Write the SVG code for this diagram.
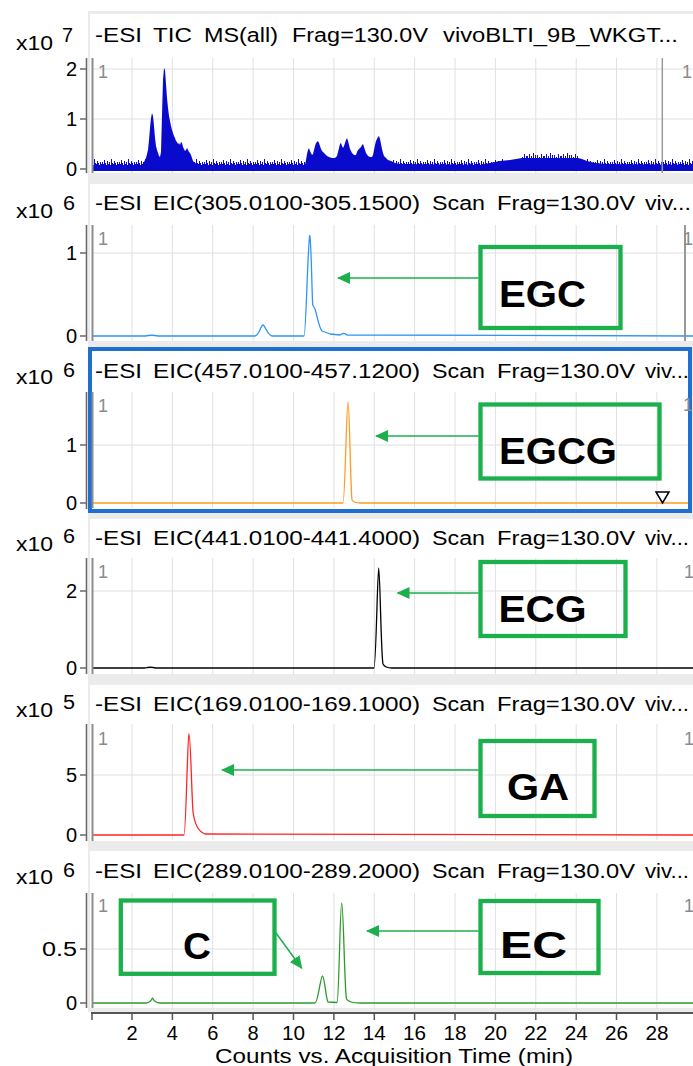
<svg xmlns="http://www.w3.org/2000/svg" width="693" height="1066" viewBox="0 0 693 1066">
<style>
text{font-family:"Liberation Sans",Arial,sans-serif;}
.hdr{font-size:19.5px;fill:#000;}
.tk{font-size:20px;fill:#000;}
.one{font-size:19px;fill:#8a8a8a;}
.lbl{font-size:37px;font-weight:bold;fill:#000;}
.grid{stroke:#e0e0e0;stroke-width:1;fill:none;}
.axis{stroke:#6a6a6a;stroke-width:1.6;fill:none;}
.cur{stroke:#8c8c8c;stroke-width:2;fill:none;}
.box{fill:none;stroke:#1bb04b;stroke-width:4.3;}
.arr{stroke:#1bb04b;stroke-width:1.5;fill:none;marker-end:url(#ah);}
.trace{fill:none;stroke-width:1.3;stroke-linejoin:round;}
</style>
<defs>
<marker id="ah" viewBox="0 0 13 12" refX="12" refY="6" markerWidth="13" markerHeight="12" markerUnits="userSpaceOnUse" orient="auto">
<path d="M0,0 L13,6 L0,12 z" fill="#1bb04b"/>
</marker>
<path id="vg" class="grid" d="M132,0V116M172.4,0V116M212.7,0V116M253.1,0V116M293.5,0V116M333.9,0V116M374.3,0V116M414.6,0V116M455,0V116M495.4,0V116M535.8,0V116M576.2,0V116M616.5,0V116M656.9,0V116"/>
<pattern id="noise" x="0" y="159" width="17" height="7" patternUnits="userSpaceOnUse">
<g fill="#0a0acd">
<rect x="0" y="3" width="1" height="4"/><rect x="1" y="5" width="1" height="2"/><rect x="2" y="1" width="1" height="6"/><rect x="3" y="4" width="1" height="3"/><rect x="4" y="6" width="1" height="1"/><rect x="5" y="2" width="1" height="5"/><rect x="6" y="5" width="1" height="2"/><rect x="7" y="3" width="1" height="4"/><rect x="8" y="6" width="1" height="1"/><rect x="9" y="0" width="1" height="7"/><rect x="10" y="4" width="1" height="3"/><rect x="11" y="5" width="1" height="2"/><rect x="12" y="2" width="1" height="5"/><rect x="13" y="4" width="1" height="3"/><rect x="14" y="6" width="1" height="1"/><rect x="15" y="3" width="1" height="4"/><rect x="16" y="5" width="1" height="2"/>
</g>
</pattern>
<pattern id="noise2" x="0" y="153" width="17" height="5" patternUnits="userSpaceOnUse">
<g fill="#0a0acd">
<rect x="0" y="3" width="1" height="2"/><rect x="2" y="1" width="1" height="4"/><rect x="4" y="3" width="1" height="2"/><rect x="6" y="0" width="1" height="5"/><rect x="8" y="2" width="1" height="3"/><rect x="10" y="2" width="1" height="3"/><rect x="12" y="4" width="1" height="1"/><rect x="14" y="1" width="1" height="4"/><rect x="16" y="3" width="1" height="2"/>
</g>
</pattern>
</defs>

<rect x="0" y="0" width="693" height="1066" fill="#fff"/>
<rect x="88" y="11" width="605" height="1003" fill="#ebebeb"/>

<!-- Panel 1: TIC -->
<g id="panel-tic">
<rect x="90" y="14" width="603" height="159" fill="#fff"/>
<use href="#vg" y="58"/>
<path class="grid" d="M92,69H693M92,119H693"/>
<rect x="92" y="159" width="601" height="7" fill="url(#noise)"/>
<rect x="522" y="153" width="56" height="5" fill="url(#noise2)"/>
<path fill="#0a0acd" d="M92,171 L92,165 L142,165 L144,162 L146,158 L148,150 L149,140 L150,128 L151,118 L152,113 L153,116 L154,126 L155,138 L156,146 L157,150 L158,153 L159,156 L160,157 L161,152 L162,115 L163,80 L164,68 L165,70 L166,84 L167,98 L168,108 L169,116 L170,121 L171,126 L172,130 L173,133 L174,136 L175,138 L176,141 L177,142 L178,144 L179,143 L180,145 L181,142 L182,143 L183,147 L184,149 L185,151 L186,150 L187,148 L188,150 L189,152 L190,153 L191,155 L192,158 L193,161 L195,163 L198,164 L200,165 L305,165 L306,160 L307,154 L308,150 L309,148 L310,151 L311,153 L312,155 L313,154 L314,150 L315,146 L316,143 L317,142 L318,141 L319,143 L320,146 L321,149 L322,151 L323,152 L325,154 L327,156 L329,157 L332,158 L335,158 L337,156 L338,152 L339,148 L340,144 L341,143 L342,146 L343,148 L344,146 L345,143 L346,140 L347,138 L348,141 L349,145 L350,149 L351,151 L352,153 L354,155 L356,155 L357,152 L358,150 L359,149 L361,147 L362,145 L363,144 L364,147 L365,150 L366,153 L368,156 L370,157 L372,157 L373,155 L374,150 L375,145 L376,141 L377,139 L378,137 L379,136 L380,139 L381,144 L382,149 L383,153 L384,156 L386,158 L388,160 L391,161 L395,163 L400,164 L480,165 L490,163 L500,161 L510,160 L522,158 L578,158 L582,159 L587,161 L595,163 L605,164 L693,165 L693,171 Z"/>
<path class="axis" d="M86.5,58V173M80,69H86.5M80,119H86.5M80,169H86.5"/>
<path class="cur" d="M92.5,58V173"/>
<path stroke="#9a9a9a" stroke-width="1.5" d="M662.3,58V173"/>
<text class="one" x="98" y="78" textLength="10" lengthAdjust="spacingAndGlyphs">1</text>
<text class="one" x="682" y="78" textLength="10" lengthAdjust="spacingAndGlyphs">1</text>
<text class="hdr" x="95" y="42" textLength="47" lengthAdjust="spacingAndGlyphs">-ESI</text>
<text class="hdr" x="153" y="42" textLength="39" lengthAdjust="spacingAndGlyphs">TIC</text>
<text class="hdr" x="204" y="42" textLength="74" lengthAdjust="spacingAndGlyphs">MS(all)</text>
<text class="hdr" x="292" y="42" textLength="136" lengthAdjust="spacingAndGlyphs">Frag=130.0V</text>
<text class="hdr" x="443" y="42" textLength="235" lengthAdjust="spacingAndGlyphs">vivoBLTI_9B_WKGT...</text>
<text class="tk" x="16" y="50" textLength="37" lengthAdjust="spacingAndGlyphs">x10</text>
<text class="tk" x="62" y="42" font-size="17" textLength="11" lengthAdjust="spacingAndGlyphs">7</text>
<text class="tk" x="77" y="76" text-anchor="end">2</text>
<text class="tk" x="77" y="126" text-anchor="end">1</text>
<text class="tk" x="77" y="176" text-anchor="end">0</text>
</g>

<!-- Panel 2: EIC 305 -->
<g id="panel-eic305">
<rect x="90" y="184" width="603" height="157" fill="#fff"/>
<use href="#vg" y="225"/>
<path class="grid" d="M92,253H693"/>
<path class="trace" stroke="#2f95f5" d="M92,336 L145,336 Q152,334.5 158,336 L255,336 C259,336 261,325 263,325 C265,325 267,335 272,336 L304,336 C306,336 307.5,250 309.7,235.5 C311.2,238 311.8,290 312.7,305 L315,309 C317,315 319,328 322,331 L330,334 L340,335 Q344,332 347,335 L693,336"/>
<path class="axis" d="M86.5,225V341M80,253H86.5M80,336H86.5"/>
<path class="cur" d="M92.5,225V341"/>
<path stroke="#8c8c8c" stroke-width="1.8" d="M685,225V341"/>
<text class="one" x="98" y="245" textLength="10" lengthAdjust="spacingAndGlyphs">1</text>
<text class="one" x="683" y="245" textLength="10" lengthAdjust="spacingAndGlyphs">1</text>
<text class="hdr" x="95" y="210" textLength="47" lengthAdjust="spacingAndGlyphs">-ESI</text>
<text class="hdr" x="153" y="210" textLength="267" lengthAdjust="spacingAndGlyphs">EIC(305.0100-305.1500)</text>
<text class="hdr" x="432" y="210" textLength="53" lengthAdjust="spacingAndGlyphs">Scan</text>
<text class="hdr" x="497" y="210" textLength="138" lengthAdjust="spacingAndGlyphs">Frag=130.0V</text>
<text class="hdr" x="645" y="210" textLength="46" lengthAdjust="spacingAndGlyphs">viv...</text>
<text class="tk" x="16" y="218" textLength="37" lengthAdjust="spacingAndGlyphs">x10</text>
<text class="tk" x="63" y="210" font-size="17" textLength="12" lengthAdjust="spacingAndGlyphs">6</text>
<text class="tk" x="77" y="260" text-anchor="end">1</text>
<text class="tk" x="77" y="343" text-anchor="end">0</text>
</g>

<!-- Panel 3: EIC 457 (selected) -->
<g id="panel-eic457">
<rect x="90" y="349" width="600" height="162" fill="#fff"/>
<use href="#vg" y="392"/>
<path class="grid" d="M92,445H690"/>
<path class="trace" stroke="#ff9a1f" d="M92,503 L343,503 C345,503 346.5,402 348,402 C349.5,402 350.5,490 352,500 Q354,503 360,503 L690,503"/>
<path fill="#fff" stroke="#000" stroke-width="1.5" d="M656,492 L669,492 L662.5,503 Z"/>
<rect x="90" y="349" width="600" height="162" fill="none" stroke="#1e6fcf" stroke-width="4"/>
<path class="axis" d="M86.5,392V509M80,445H86.5M80,503H86.5"/>
<path class="cur" d="M92.5,392V508"/>
<text class="one" x="98" y="412" textLength="10" lengthAdjust="spacingAndGlyphs">1</text>
<text class="one" x="683" y="411" textLength="10" lengthAdjust="spacingAndGlyphs">1</text>
<text class="hdr" x="95" y="378" textLength="47" lengthAdjust="spacingAndGlyphs">-ESI</text>
<text class="hdr" x="153" y="378" textLength="267" lengthAdjust="spacingAndGlyphs">EIC(457.0100-457.1200)</text>
<text class="hdr" x="432" y="378" textLength="53" lengthAdjust="spacingAndGlyphs">Scan</text>
<text class="hdr" x="497" y="378" textLength="138" lengthAdjust="spacingAndGlyphs">Frag=130.0V</text>
<text class="hdr" x="645" y="378" textLength="44" lengthAdjust="spacingAndGlyphs">viv...</text>
<text class="tk" x="16" y="384" textLength="37" lengthAdjust="spacingAndGlyphs">x10</text>
<text class="tk" x="63" y="377" font-size="17" textLength="12" lengthAdjust="spacingAndGlyphs">6</text>
<text class="tk" x="77" y="452" text-anchor="end">1</text>
<text class="tk" x="77" y="509.5" text-anchor="end">0</text>
</g>

<!-- Panel 4: EIC 441 -->
<g id="panel-eic441">
<rect x="90" y="519" width="603" height="155" fill="#fff"/>
<use href="#vg" y="558"/>
<path class="grid" d="M92,591H693"/>
<path class="trace" stroke="#000" d="M92,668 L145,668 Q150,666.5 156,668 L374,668 C376,668 377.5,568 378.7,568 C380,568 381,655 383,664 Q385,668 392,668 L693,668"/>
<path class="axis" d="M86.5,558V674M80,591H86.5M80,668H86.5"/>
<path class="cur" d="M92.5,558V674"/>
<text class="one" x="98" y="578" textLength="10" lengthAdjust="spacingAndGlyphs">1</text>
<text class="one" x="684" y="578" textLength="10" lengthAdjust="spacingAndGlyphs">1</text>
<text class="hdr" x="95" y="545" textLength="47" lengthAdjust="spacingAndGlyphs">-ESI</text>
<text class="hdr" x="153" y="545" textLength="267" lengthAdjust="spacingAndGlyphs">EIC(441.0100-441.4000)</text>
<text class="hdr" x="432" y="545" textLength="53" lengthAdjust="spacingAndGlyphs">Scan</text>
<text class="hdr" x="497" y="545" textLength="138" lengthAdjust="spacingAndGlyphs">Frag=130.0V</text>
<text class="hdr" x="645" y="545" textLength="44" lengthAdjust="spacingAndGlyphs">viv...</text>
<text class="tk" x="16" y="551" textLength="37" lengthAdjust="spacingAndGlyphs">x10</text>
<text class="tk" x="63" y="543" font-size="17" textLength="12" lengthAdjust="spacingAndGlyphs">6</text>
<text class="tk" x="77" y="598" text-anchor="end">2</text>
<text class="tk" x="77" y="675" text-anchor="end">0</text>
</g>

<!-- Panel 5: EIC 169 -->
<g id="panel-eic169">
<rect x="90" y="685" width="603" height="156" fill="#fff"/>
<use href="#vg" y="724"/>
<path class="grid" d="M92,775H693"/>
<path class="trace" stroke="#ff2424" d="M92,835 L184,835 C186,835 187.5,735 189,734 C190.5,734 191.5,790 193,812 C195,825 198,831 205,834 L693,835"/>
<path class="axis" d="M86.5,724V841M80,775H86.5M80,835H86.5"/>
<path class="cur" d="M92.5,724V841"/>
<text class="one" x="98" y="745" textLength="10" lengthAdjust="spacingAndGlyphs">1</text>
<text class="one" x="684" y="745" textLength="10" lengthAdjust="spacingAndGlyphs">1</text>
<text class="hdr" x="95" y="711" textLength="47" lengthAdjust="spacingAndGlyphs">-ESI</text>
<text class="hdr" x="153" y="711" textLength="267" lengthAdjust="spacingAndGlyphs">EIC(169.0100-169.1000)</text>
<text class="hdr" x="432" y="711" textLength="53" lengthAdjust="spacingAndGlyphs">Scan</text>
<text class="hdr" x="497" y="711" textLength="138" lengthAdjust="spacingAndGlyphs">Frag=130.0V</text>
<text class="hdr" x="645" y="711" textLength="44" lengthAdjust="spacingAndGlyphs">viv...</text>
<text class="tk" x="16" y="717" textLength="37" lengthAdjust="spacingAndGlyphs">x10</text>
<text class="tk" x="63" y="709" font-size="17" textLength="12" lengthAdjust="spacingAndGlyphs">5</text>
<text class="tk" x="77" y="782" text-anchor="end">5</text>
<text class="tk" x="77" y="842" text-anchor="end">0</text>
</g>

<!-- Panel 6: EIC 289 -->
<g id="panel-eic289">
<rect x="90" y="851" width="603" height="157" fill="#fff"/>
<use href="#vg" y="893"/>
<path class="grid" d="M92,949H693"/>
<path class="trace" stroke="#2e9a2e" d="M92,1003 L146,1003 Q150,1003 152.5,998 Q155,1003 160,1003 L315,1003 C318,1003 320.5,976 322.5,976 C324.5,976 326,1000 328,1002 L337,1002.5 C339,1002 340,903 341.7,903 C343.5,903 344.5,990 346.5,999 Q349,1003 360,1003 L693,1003"/>
<path class="axis" d="M86.5,893V1008M80,949H86.5M80,1003H86.5"/>
<path class="cur" d="M92.5,893V1008"/>
<text class="one" x="98" y="912" textLength="10" lengthAdjust="spacingAndGlyphs">1</text>
<text class="one" x="684" y="912" textLength="10" lengthAdjust="spacingAndGlyphs">1</text>
<text class="hdr" x="95" y="878" textLength="47" lengthAdjust="spacingAndGlyphs">-ESI</text>
<text class="hdr" x="153" y="878" textLength="267" lengthAdjust="spacingAndGlyphs">EIC(289.0100-289.2000)</text>
<text class="hdr" x="432" y="878" textLength="53" lengthAdjust="spacingAndGlyphs">Scan</text>
<text class="hdr" x="497" y="878" textLength="138" lengthAdjust="spacingAndGlyphs">Frag=130.0V</text>
<text class="hdr" x="645" y="878" textLength="44" lengthAdjust="spacingAndGlyphs">viv...</text>
<text class="tk" x="16" y="884" textLength="37" lengthAdjust="spacingAndGlyphs">x10</text>
<text class="tk" x="63" y="876.5" font-size="17" textLength="12" lengthAdjust="spacingAndGlyphs">6</text>
<text class="tk" x="77" y="956" text-anchor="end" textLength="35" lengthAdjust="spacingAndGlyphs">0.5</text>
<text class="tk" x="77" y="1010" text-anchor="end">0</text>
</g>

<!-- X axis -->
<g id="x-axis">
<rect x="88" y="1012" width="605" height="54" fill="#fff"/>
<path stroke="#555" stroke-width="2" d="M91,1013H693"/>
<path stroke="#555" stroke-width="1.5" d="M92,1013V1020M132,1013V1020M172.4,1013V1020M212.7,1013V1020M253.1,1013V1020M293.5,1013V1020M333.9,1013V1020M374.3,1013V1020M414.6,1013V1020M455,1013V1020M495.4,1013V1020M535.8,1013V1020M576.2,1013V1020M616.5,1013V1020M656.9,1013V1020"/>
<g class="tk" text-anchor="middle">
<text x="132" y="1040">2</text><text x="172.4" y="1040">4</text><text x="212.7" y="1040">6</text><text x="253.1" y="1040">8</text>
<text x="293.5" y="1040" textLength="23" lengthAdjust="spacingAndGlyphs">10</text><text x="333.9" y="1040" textLength="23" lengthAdjust="spacingAndGlyphs">12</text><text x="374.3" y="1040" textLength="23" lengthAdjust="spacingAndGlyphs">14</text><text x="414.6" y="1040" textLength="23" lengthAdjust="spacingAndGlyphs">16</text><text x="455" y="1040" textLength="23" lengthAdjust="spacingAndGlyphs">18</text><text x="495.4" y="1040" textLength="23" lengthAdjust="spacingAndGlyphs">20</text><text x="535.8" y="1040" textLength="23" lengthAdjust="spacingAndGlyphs">22</text><text x="576.2" y="1040" textLength="23" lengthAdjust="spacingAndGlyphs">24</text><text x="616.5" y="1040" textLength="23" lengthAdjust="spacingAndGlyphs">26</text><text x="656.9" y="1040" textLength="23" lengthAdjust="spacingAndGlyphs">28</text>
</g>
<text class="tk" x="215" y="1063" font-size="21" textLength="358" lengthAdjust="spacingAndGlyphs">Counts vs. Acquisition Time (min)</text>
</g>

<!-- Annotation boxes -->
<g id="label-EGC"><rect class="box" x="480.5" y="247" width="140" height="81"/><text class="lbl" x="499" y="307" font-size="36" textLength="87" lengthAdjust="spacingAndGlyphs">EGC</text></g>
<g id="label-EGCG"><rect class="box" x="480.5" y="404.5" width="179" height="74"/><text class="lbl" x="499" y="464" textLength="118" lengthAdjust="spacingAndGlyphs">EGCG</text></g>
<g id="label-ECG"><rect class="box" x="480.5" y="562" width="145" height="74"/><text class="lbl" x="498.5" y="621.5" textLength="88" lengthAdjust="spacingAndGlyphs">ECG</text></g>
<g id="label-GA"><rect class="box" x="480.5" y="741" width="114" height="75"/><text class="lbl" x="507" y="800" textLength="62" lengthAdjust="spacingAndGlyphs">GA</text></g>
<g id="label-C"><rect class="box" x="120.8" y="900.5" width="153.7" height="73.3"/><text class="lbl" x="183" y="959" font-size="36" textLength="28" lengthAdjust="spacingAndGlyphs">C</text></g>
<g id="label-EC"><rect class="box" x="480.5" y="901" width="118" height="72"/><text class="lbl" x="500" y="958" font-size="36" textLength="67" lengthAdjust="spacingAndGlyphs">EC</text></g>

<!-- Connectors -->
<g id="connectors">
<path class="arr" d="M478.5,278H338"/>
<path class="arr" d="M478.5,436H376"/>
<path class="arr" d="M478.5,593H397.5"/>
<path class="arr" d="M478.5,770H222"/>
<path class="arr" d="M478.5,931H367"/>
<path class="arr" d="M276,933L301.7,968.3"/>
</g>
</svg>
